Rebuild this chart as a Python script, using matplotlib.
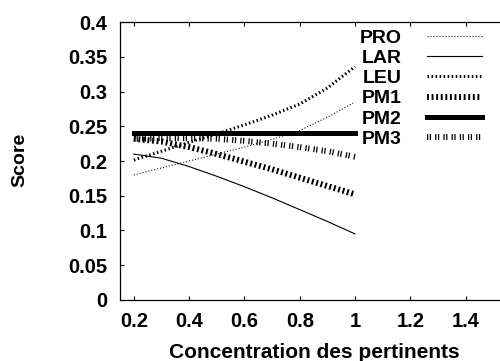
import matplotlib
matplotlib.use("Agg")
import matplotlib.pyplot as plt

plt.rcParams['lines.scale_dashes'] = False

conc = [0.2, 0.3, 0.4, 0.5, 0.6, 0.7, 0.8, 0.9, 1.0]
pro = [0.180, 0.190, 0.200, 0.210, 0.220, 0.231, 0.244, 0.263, 0.285]
lar = [0.210, 0.204, 0.192, 0.178, 0.163, 0.147, 0.130, 0.113, 0.095]
leu = [0.2015, 0.214, 0.227, 0.239, 0.252, 0.266, 0.282, 0.305, 0.336]
pm1 = [0.232, 0.228, 0.220, 0.210, 0.199, 0.188, 0.176, 0.164, 0.152]
pm2 = [0.240, 0.240, 0.240, 0.240, 0.240, 0.240, 0.240, 0.240, 0.240]
pm3 = [0.232, 0.233, 0.233, 0.232, 0.229, 0.225, 0.220, 0.214, 0.206]

xticks = [0.2, 0.4, 0.6, 0.8, 1.0, 1.2, 1.4]
xticklabels = ["0.2", "0.4", "0.6", "0.8", "1", "1.2", "1.4"]
yticks = [0, 0.05, 0.1, 0.15, 0.2, 0.25, 0.3, 0.35, 0.4]
yticklabels = ["0", "0.05", "0.1", "0.15", "0.2", "0.25", "0.3", "0.35", "0.4"]

fig = plt.figure(figsize=(5.0, 3.61), dpi=100)
ax = fig.add_axes([0.24, 0.169, 0.802, 0.770])

ax.plot(conc, pro, color='black', lw=0.8, dashes=(0.72, 1.44), label='PRO')
ax.plot(conc, lar, color='black', lw=0.8, label='LAR')
ax.plot(conc, leu, color='black', lw=2.2, dashes=(1.1, 1.8), label='LEU')
ax.plot(conc, pm1, color='black', lw=4.3, dashes=(1.4, 1.9), label='PM1')
ax.plot(conc, pm2, color='black', lw=3.6, label='PM2')
ax.plot(conc, pm3, color='black', lw=4.3, dashes=(0.9, 1.1, 0.9, 3.0), label='PM3')

ax.set_xlim(0.15, 1.6)
ax.set_ylim(0, 0.4)
ax.set_xticks(xticks)
ax.set_xticklabels(xticklabels)
ax.set_yticks(yticks)
ax.set_yticklabels(yticklabels)

for lab in ax.get_xticklabels() + ax.get_yticklabels():
    lab.set_fontfamily('Liberation Sans')
    lab.set_fontweight('bold')
    lab.set_fontsize(14.5)

ax.tick_params(axis='both', direction='in', length=3, width=0.8,
               top=True, right=True)
ax.tick_params(axis='x', pad=9)
ax.tick_params(axis='y', pad=9)
for sp in ax.spines.values():
    sp.set_linewidth(0.9)

ax.set_xlabel('Concentration des pertinents', fontfamily='Liberation Sans',
              fontweight='bold', fontsize=15, labelpad=6)
ax.xaxis.set_label_coords(0.484, -0.155)
fig.text(0.04, (361 - 160) / 361, 'Score', rotation=90, ha='center', va='center',
         fontfamily=['Liberation Sans Narrow', 'Liberation Sans'],
         fontweight='bold', fontsize=14)

leg = ax.legend(loc='upper right', bbox_to_anchor=(482 / 500, 1 - 29 / 361),
                bbox_transform=fig.transFigure, frameon=False, markerfirst=False,
                borderpad=0, borderaxespad=0, handlelength=2.85,
                handletextpad=1.3, labelspacing=0.135,
                prop=dict(family=['Liberation Sans Narrow', 'Liberation Sans'],
                          weight='bold', size=14))

fig.savefig('out.png', dpi=100)
